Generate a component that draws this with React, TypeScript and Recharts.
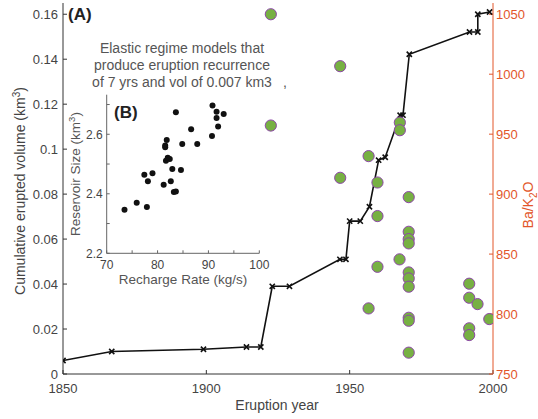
import React from 'react';
import { ComposedChart, ScatterChart, Line, Scatter, XAxis, YAxis } from 'recharts';

// Main panel (A): cumulative erupted volume line
const lineYears = [1850, 1867, 1899, 1914, 1919, 1923, 1929, 1946.6, 1948.7, 1950, 1953.7, 1956.9, 1960.1, 1962.4, 1967.6, 1968.6, 1970.8, 1991.8, 1994.7, 1994.7, 1998.8];
const lineVolumes = [0.006, 0.010, 0.011, 0.012, 0.012, 0.039, 0.039, 0.051, 0.051, 0.068, 0.068, 0.0744, 0.0951, 0.0964, 0.1151, 0.1151, 0.1422, 0.1521, 0.1521, 0.160, 0.161];

// Main panel (A): Ba/K2O dots
const dotYears = [1922.5, 1922.5, 1946.7, 1946.7, 1956.6, 1956.6, 1959.7, 1959.7, 1959.7, 1967.5, 1967.5, 1967.4, 1970.6, 1970.6, 1970.6, 1970.6, 1970.6, 1970.6, 1970.6, 1970.6, 1970.6, 1970.6, 1991.7, 1991.7, 1991.7, 1991.7, 1994.6, 1998.7];
const dotRatios = [1050, 957.2, 1006.7, 913.6, 931.7, 804.7, 909.7, 881.7, 839.4, 959.7, 953.3, 845.6, 897.5, 868.6, 862.5, 858.9, 834.7, 829.7, 822.8, 796.9, 794.4, 767.8, 825.3, 813.6, 788.1, 782.5, 808.3, 795.8];

// Inset (B)
const insetRates = [73.5, 75.9, 77.9, 77.4, 79.0, 78.1, 81.2, 82.6, 83.2, 83.6, 82.9, 84.6, 81.65, 82.0, 82.4, 81.5, 81.5, 81.8, 84.85, 87.8, 83.6, 86.6, 90.7, 90.8, 91.6, 91.6, 93.0, 91.9];
const insetSizes = [2.346, 2.370, 2.356, 2.464, 2.469, 2.442, 2.430, 2.442, 2.406, 2.408, 2.483, 2.480, 2.511, 2.521, 2.517, 2.562, 2.556, 2.581, 2.567, 2.567, 2.674, 2.617, 2.594, 2.697, 2.676, 2.655, 2.668, 2.626];

const yearTicks = [1850, 1900, 1950, 2000];
const volumeTicks = [0, 0.02, 0.04, 0.06, 0.08, 0.1, 0.12, 0.14, 0.16];
const ratioTicks = [750, 800, 850, 900, 950, 1000, 1050];
const rateTicks = [70, 75, 80, 85, 90, 95, 100];
const rateLabels = [70, 80, 90, 100];
const sizeTicks = [2.2, 2.3, 2.4, 2.5, 2.6, 2.7];
const sizeLabels = [2.2, 2.4, 2.6];

const lineData = lineYears.map((year, i) => ({ year, vol: lineVolumes[i] }));
const dotData = dotYears.map((year, i) => ({ year, ba: dotRatios[i] }));
const insetData = insetRates.map((rate, i) => ({ rate, size: insetSizes[i] }));

const FONT = '"Liberation Sans", Arial, Helvetica, sans-serif';
const TEXT = '#444';
const AXIS = '#333';
const ORANGE = '#e2562a';

const XMark = (props: any) => {
  const { cx, cy } = props;
  if (cx == null || cy == null) return null;
  const s = 2.6;
  return (
    <path
      d={`M${cx - s},${cy - s}L${cx + s},${cy + s}M${cx - s},${cy + s}L${cx + s},${cy - s}`}
      stroke="#111"
      strokeWidth={1.6}
      fill="none"
    />
  );
};

const GreenDot = (props: any) => {
  const { cx, cy } = props;
  return <circle cx={cx} cy={cy} r={5.6} fill="#77b043" stroke="#8d47a8" strokeWidth={1} />;
};

const BlackDot = (props: any) => {
  const { cx, cy } = props;
  return <circle cx={cx} cy={cy} r={3} fill="#111" />;
};

const tickStyle = { fontSize: 13, fill: TEXT, fontFamily: FONT };
const insetTickStyle = { fontSize: 12, fill: TEXT, fontFamily: FONT };

export default function App() {
  return (
    <div style={{ position: 'absolute', left: 0, top: 0, width: 538, height: 419, background: '#fff', fontFamily: FONT }}>
      <div style={{ position: 'absolute', left: 0, top: 0 }}>
        <ComposedChart width={538} height={419} margin={{ top: 3, right: 0, bottom: 0, left: 0 }}>
          <XAxis
            xAxisId="bottom"
            dataKey="year"
            type="number"
            domain={[1850, 2000]}
            ticks={yearTicks}
            allowDataOverflow
            height={45}
            tick={tickStyle}
            tickSize={-4}
            tickMargin={14}
            stroke={AXIS}
            tickLine={{ stroke: AXIS }}
          />
          <XAxis
            xAxisId="top"
            orientation="top"
            type="number"
            domain={[1850, 2000]}
            ticks={yearTicks}
            allowDataOverflow
            height={0}
            tickFormatter={() => ''}
            tickSize={-4}
            stroke="#555"
          />
          <YAxis
            yAxisId="left"
            dataKey="vol"
            type="number"
            domain={[0, 0.165]}
            ticks={volumeTicks}
            allowDataOverflow
            width={63}
            tick={tickStyle}
            tickSize={-4}
            tickMargin={9}
            stroke={AXIS}
          />
          <YAxis
            yAxisId="right"
            orientation="right"
            dataKey="ba"
            type="number"
            domain={[750, 1059.375]}
            ticks={ratioTicks}
            allowDataOverflow
            width={45}
            tick={{ ...tickStyle, fill: ORANGE }}
            tickSize={-4}
            tickMargin={7}
            stroke={ORANGE}
          />
          <Line
            data={lineData}
            xAxisId="bottom"
            yAxisId="left"
            dataKey="vol"
            stroke="#111"
            strokeWidth={1.6}
            dot={<XMark />}
            activeDot={false}
            isAnimationActive={false}
            type="linear"
          />
          <Scatter
            data={dotData}
            xAxisId="bottom"
            yAxisId="right"
            dataKey="ba"
            shape={<GreenDot />}
            isAnimationActive={false}
          />
        </ComposedChart>
      </div>

      <div style={{ position: 'absolute', left: 0, top: 80 }}>
        <ScatterChart width={275} height={215} margin={{ top: 14.7, right: 15.7, bottom: 0, left: 0 }}>
          <XAxis
            xAxisId="b"
            dataKey="rate"
            type="number"
            domain={[70, 100]}
            ticks={rateTicks}
            allowDataOverflow
            height={41.7}
            tick={insetTickStyle}
            tickFormatter={(v: number) => (rateLabels.includes(v) ? String(v) : '')}
            tickSize={-3}
            tickMargin={10}
            stroke="#666"
          />
          <XAxis
            xAxisId="t"
            orientation="top"
            type="number"
            domain={[70, 100]}
            ticks={rateTicks}
            allowDataOverflow
            height={0}
            tickFormatter={() => ''}
            tickSize={-3}
            stroke="#666"
          />
          <YAxis
            yAxisId="l"
            dataKey="size"
            type="number"
            domain={[2.2, 2.733]}
            ticks={sizeTicks}
            allowDataOverflow
            width={106.7}
            tick={insetTickStyle}
            tickFormatter={(v: number) => (sizeLabels.includes(v) ? v.toFixed(1) : '')}
            tickSize={-3}
            tickMargin={7}
            stroke="#666"
          />
          <YAxis
            yAxisId="r"
            orientation="right"
            type="number"
            domain={[2.2, 2.733]}
            ticks={sizeTicks}
            allowDataOverflow
            width={0}
            tickFormatter={() => ''}
            tickSize={-3}
            stroke="#666"
          />
          <Scatter
            data={insetData}
            xAxisId="b"
            yAxisId="l"
            dataKey="size"
            shape={<BlackDot />}
            isAnimationActive={false}
          />
        </ScatterChart>
      </div>

      <svg width={538} height={419} style={{ position: 'absolute', left: 0, top: 0, pointerEvents: 'none' }} fontFamily={FONT}>
        <text x={68} y={20} fontSize={17} fontWeight="bold" fill="#222">(A)</text>
        <text x={114} y={118} fontSize={17} fontWeight="bold" fill="#222">(B)</text>
        <g fontSize={14} fill="#555" textAnchor="middle">
          <text x={182} y={53}>Elastic regime models that</text>
          <text x={182} y={70}>produce eruption recurrence</text>
          <text x={182} y={87}>of 7 yrs and vol of 0.007 km3</text>
        </g>
        <text x={283} y={87} fontSize={14} fill="#555">,</text>
        <text x={183} y={284} fontSize={13.5} fill="#555" textAnchor="middle">Recharge Rate (kg/s)</text>
        <text transform="translate(80,174) rotate(-90)" fontSize={13.5} fill="#555" textAnchor="middle">
          Reservoir Size (km<tspan dy={-5} fontSize={9.5}>3</tspan><tspan dy={5}>)</tspan>
        </text>
        <text transform="translate(25,191) rotate(-90)" fontSize={14} fill={TEXT} textAnchor="middle">
          Cumulative erupted volume (km<tspan dy={-5} fontSize={10}>3</tspan><tspan dy={5}>)</tspan>
        </text>
        <text x={277} y={410} fontSize={14} fill={TEXT} textAnchor="middle">Eruption year</text>
        <text transform="translate(533,205) rotate(-90)" fontSize={14} fill={ORANGE} textAnchor="middle">
          Ba/K<tspan dy={4} fontSize={10}>2</tspan><tspan dy={-4}>O</tspan>
        </text>
      </svg>
    </div>
  );
}
